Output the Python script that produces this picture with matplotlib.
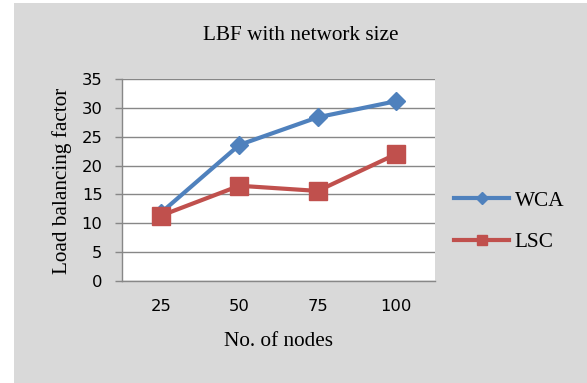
import matplotlib.pyplot as plt
from matplotlib.lines import Line2D
from matplotlib.patches import Rectangle

# load balancing factor vs. number of nodes
nodes = ["25", "50", "75", "100"]
wca = [11.8, 23.6, 28.4, 31.2]
lsc = [11.3, 16.5, 15.6, 22.0]

blue = "#4F81BD"
red = "#C0504D"
grid_c = "#878787"
serif = "Liberation Serif"

fig = plt.figure(figsize=(5.87, 3.83), dpi=100)
fig.patch.set_facecolor("white")
# grey chart area (leaves a thin white strip on the left and top)
fig.patches.append(Rectangle((14 / 587, 0), 1, 1 - 3 / 383, transform=fig.transFigure,
                             facecolor="#D9D9D9", edgecolor="none", zorder=-1))

ax = fig.add_axes([121.7 / 587, (383 - 280.7) / 383, 313.7 / 587, 201.4 / 383])
ax.set_facecolor("white")

x = [i + 0.5 for i in range(len(nodes))]
ax.plot(x, wca, color=blue, lw=3, marker="D", ms=9.5, mec=blue, zorder=3)
ax.plot(x, lsc, color=red, lw=3, marker="s", ms=13.5, mec=red, zorder=4)

ax.set_xlim(0, 4)
ax.set_ylim(0, 35)
ax.set_yticks(range(0, 36, 5))
ax.set_xticks(x)
ax.set_xticklabels(nodes)
ax.yaxis.grid(True, color=grid_c, lw=1.0)
ax.set_axisbelow(True)

for s in ["top", "right"]:
    ax.spines[s].set_visible(False)
for s in ["left", "bottom"]:
    ax.spines[s].set_color(grid_c)
    ax.spines[s].set_linewidth(1.0)

ax.tick_params(axis="y", length=4.8, width=1.0, color=grid_c, pad=9.0)
ax.tick_params(axis="x", length=0, pad=13)
for lab in ax.get_xticklabels() + ax.get_yticklabels():
    lab.set_fontfamily("DejaVu Sans")
    lab.set_fontsize(11.8)
    lab.set_color("black")

fig.text(300.5 / 587, 1 - 36 / 383, "LBF with network size", family=serif,
         fontsize=15.3, ha="center", va="center")
fig.text(62 / 587, 1 - 181 / 383, "Load balancing factor", family=serif,
         fontsize=15.3, ha="center", va="center", rotation=90)
fig.text(278.5 / 587, 1 - 342 / 383, "No. of nodes", family=serif,
         fontsize=15.3, ha="center", va="center")

handles = [
    Line2D([], [], color=blue, lw=3, marker="D", ms=6, mec=blue),
    Line2D([], [], color=red, lw=3, marker="s", ms=7, mec=red),
]
fig.legend(handles, ["WCA", "LSC"], loc="center left",
           bbox_to_anchor=(454 / 587, 1 - 221.5 / 383), frameon=False,
           prop={"family": serif, "size": 15.3}, handlelength=2.6,
           handletextpad=0.25, labelspacing=1.0, borderpad=0, borderaxespad=0)

fig.savefig("out.png", dpi=100)
